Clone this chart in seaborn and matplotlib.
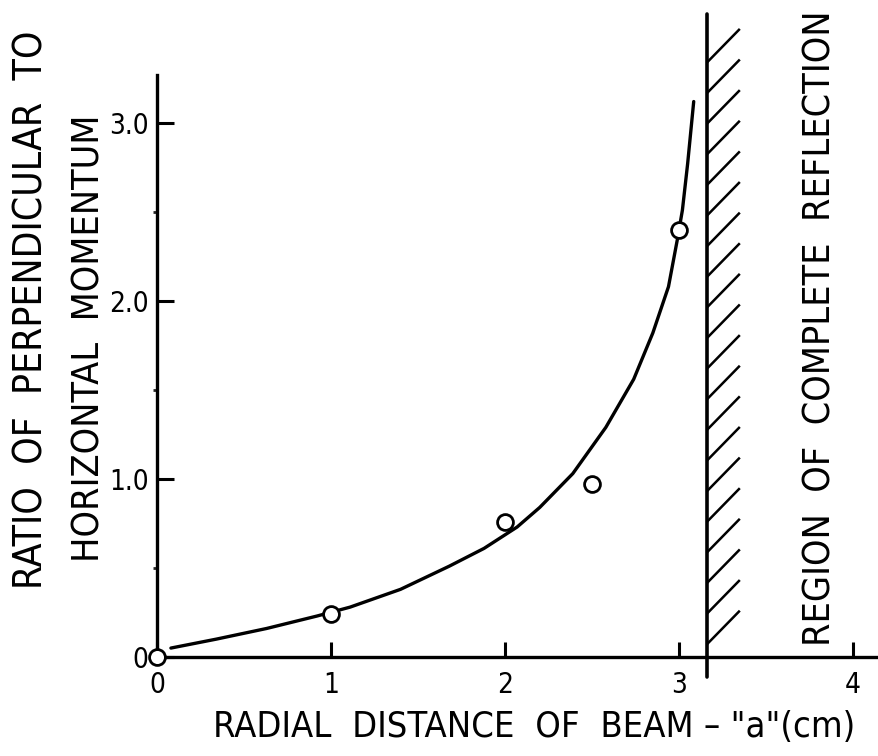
import numpy as np
import pandas as pd
import seaborn as sns
import matplotlib.pyplot as plt

# measured points: radial distance of beam "a" (cm) vs momentum ratio
dist_cm = [0.0, 1.0, 2.0, 2.5, 3.0]
ratio = [0.0, 0.24, 0.76, 0.97, 2.40]

# hand drawn curve through the points
curve_x = [0.08, 0.34, 0.63, 0.92, 1.11, 1.40, 1.68, 1.88, 2.07, 2.20, 2.39, 2.58,
           2.74, 2.85, 2.94, 2.99, 3.02, 3.05, 3.075, 3.085]
curve_y = [0.05, 0.10, 0.16, 0.23, 0.28, 0.38, 0.51, 0.61, 0.73, 0.84, 1.03, 1.29,
           1.56, 1.82, 2.08, 2.34, 2.51, 2.77, 3.02, 3.12]

reflection_edge = 3.16   # start of complete reflection region

xticks = [0, 1, 2, 3, 4]
xtick_labels = ['0', '1', '2', '3', '4']
yticks = [0, 1, 2, 3]
ytick_labels = ['0', '1.0', '2.0', '3.0']

points = pd.DataFrame({'a': dist_cm, 'ratio': ratio})
curve = pd.DataFrame({'a': curve_x, 'ratio': curve_y})

sns.set_theme(style='ticks')
plt.rcParams['font.family'] = ['DejaVu Sans']
plt.rcParams['font.stretch'] = 'condensed'
plt.rcParams['text.color'] = 'black'

fig = plt.figure(figsize=(8.79, 7.56), dpi=100)
ax = fig.add_axes([0.1786, 0.131, 0.8214, 0.770])

sns.lineplot(data=curve, x='a', y='ratio', color='black', linewidth=2.4, ax=ax, zorder=2)
sns.scatterplot(data=points, x='a', y='ratio', s=130, facecolor='white', edgecolor='black',
                linewidth=2.0, ax=ax, zorder=5, clip_on=False)

# boundary of the reflection region + hatching
ax.plot([reflection_edge, reflection_edge], [-0.11, 3.61], color='black', lw=2.6, clip_on=False)
for yb in np.arange(0.07, 3.35, 0.172):
    ax.plot([reflection_edge, reflection_edge + 0.19], [yb, yb + 0.19], color='black', lw=1.8,
            clip_on=False, solid_capstyle='butt')

ax.set_xlim(0, 4.15)
ax.set_ylim(0, 3.27)
sns.despine(ax=ax)
for s in ['left', 'bottom']:
    ax.spines[s].set_linewidth(2.4)
    ax.spines[s].set_color('black')

ax.set_xticks(xticks, xtick_labels)
ax.set_yticks(yticks, ytick_labels)
ax.set_yticks([0.5, 1.5, 2.5], minor=True)
ax.tick_params(axis='both', direction='in', labelsize=20, width=2.2, colors='black')
ax.tick_params(axis='x', length=11, pad=10)
ax.tick_params(axis='y', length=12, pad=6)
ax.tick_params(axis='y', which='minor', length=3, width=2)
ax.set_xlabel('')
ax.set_ylabel('')

fig.text(0.6075, 0.038, 'RADIAL  DISTANCE  OF  BEAM \u2013 "a"(cm)', fontsize=26,
         ha='center', va='center')
fig.text(0.036, 0.590, 'RATIO  OF  PERPENDICULAR  TO', fontsize=28, rotation=90,
         ha='center', va='center')
fig.text(0.102, 0.552, 'HORIZONTAL  MOMENTUM', fontsize=27, rotation=90,
         ha='center', va='center')
fig.text(0.933, 0.566, 'REGION  OF  COMPLETE  REFLECTION', fontsize=27, rotation=90,
         ha='center', va='center')

fig.savefig('out.png', dpi=100)
